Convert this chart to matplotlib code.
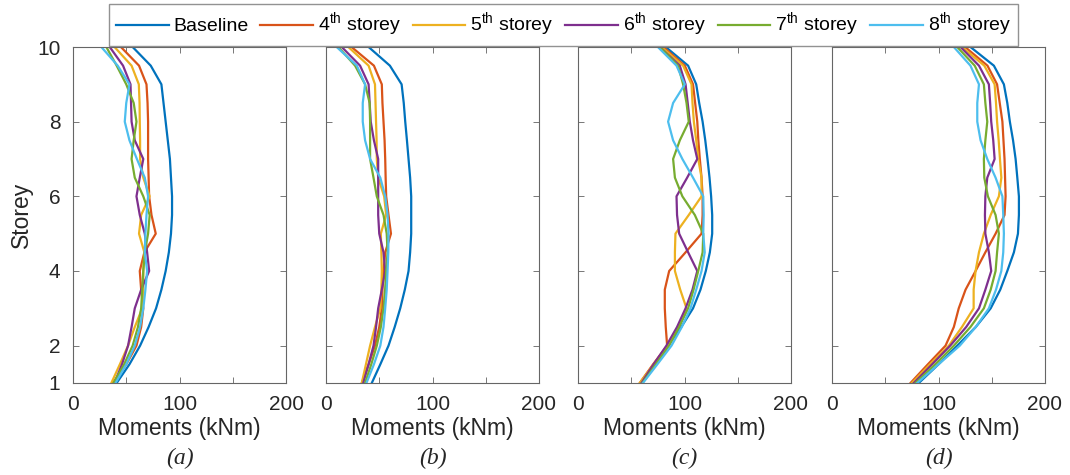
import matplotlib
matplotlib.use("Agg")
import matplotlib.pyplot as plt
import numpy as np

plt.rcParams['font.family'] = ['Liberation Sans', 'DejaVu Sans']
plt.rcParams['mathtext.fontset'] = 'custom'
plt.rcParams['mathtext.rm'] = 'Liberation Sans'

storeys = [1, 1.5, 2, 2.5, 3, 3.5, 4, 4.5, 5, 5.5, 6, 6.5, 7, 7.5, 8, 8.5, 9, 9.5, 10]

series_names = ['Baseline', r'4$^{\mathrm{th}}$ storey', r'5$^{\mathrm{th}}$ storey',
                r'6$^{\mathrm{th}}$ storey', r'7$^{\mathrm{th}}$ storey', r'8$^{\mathrm{th}}$ storey']
colors = ['#0072BD', '#D95319', '#EDB120', '#7E2F8E', '#77AC30', '#4DBEEE']
panel_tags = ['(a)', '(b)', '(c)', '(d)']

# moments (kNm) per storey, rows: baseline, 4th..8th storey
moments_a = [
    [41, 53, 63, 71, 78, 83, 87, 90, 92, 93, 93, 92, 91, 89, 87, 85, 83, 73, 56],
    [37.6, 50, 59.6, 64, 66, 64, 62.7, 67, 77.7, 73.7, 71.5, 71, 70.5, 70.5, 70.5, 70, 69, 62, 45],
    [36, 44, 51.7, 58, 65, 66, 66, 67, 62, 64, 72, 66, 63, 63, 62.7, 62.5, 61.8, 55, 39],
    [39, 46, 51.7, 55, 58, 64, 71.5, 69.6, 67.4, 62.7, 59.6, 62.7, 66, 58, 55, 54.5, 54, 47, 34.5],
    [38, 48, 56, 61, 64, 65, 66, 67.4, 70.5, 72, 66, 58, 55, 57, 59.6, 57, 50, 41, 31.3],
    [40, 50, 58, 63, 66, 68, 69.6, 67.4, 68, 69, 70.5, 67.4, 60, 53, 48.6, 50, 53, 42, 26.6],
]
moments_b = [
    [43, 51, 58.7, 64.5, 69.7, 74, 77.5, 79, 80, 80, 80, 79, 77.5, 76, 74.4, 73, 71, 60, 40],
    [33.6, 40, 46, 50, 52.4, 53, 54, 55.6, 61, 58.7, 56.5, 56, 55.6, 55, 54, 53, 52.4, 45, 24],
    [33.6, 37.5, 41.4, 46, 51, 52, 52.4, 52, 51.5, 56.5, 54.6, 49, 47.7, 47.5, 47, 46.5, 46, 40, 21],
    [35, 40, 44.6, 47, 49, 52.4, 55.6, 54, 50, 49, 49, 49, 49, 45, 42, 41, 40, 32, 14.8],
    [36.7, 42.5, 47.7, 51.5, 54, 55.5, 56.5, 57.8, 57, 54, 47.7, 44.6, 41.4, 41.4, 41.4, 41, 36.7, 27.3, 11.6],
    [38, 45, 51, 54, 55.6, 57, 57.8, 58.5, 58.7, 57.8, 55.6, 51, 41.4, 36.7, 34.5, 34.5, 36.7, 29, 10],
]
moments_c = [
    [59.6, 72, 84.6, 97, 108, 115, 120, 123.8, 126, 126, 125, 123.5, 121.6, 119.5, 117, 113.8, 111, 103.4, 82.4],
    [58, 70.5, 83.7, 82.4, 81.5, 81.5, 85.6, 101, 116, 117, 117, 116, 114.4, 113, 112, 110, 108, 100.3, 80],
    [58, 71, 84.6, 94, 101.9, 96, 91, 91, 91.5, 104, 116, 116, 112.9, 111, 108.8, 107.5, 106.6, 98.7, 78.4],
    [59.6, 71, 83, 93, 101, 107.5, 112, 103.4, 95, 93, 92.5, 102.5, 112, 108, 105, 103, 101, 95.6, 76.8],
    [60.5, 73, 85.6, 95, 103.4, 108.5, 112.9, 117, 117.6, 109.7, 98, 91, 89.3, 95.6, 104, 101.9, 98.7, 94, 76.8],
    [61, 74.5, 87.8, 97.5, 105.6, 111, 116, 119, 117.6, 118, 117.6, 108, 98, 89.3, 84.6, 89.3, 100.3, 92.5, 75],
]
moments_d = [
    [81.5, 100, 117.6, 135, 149, 158, 164.6, 170.8, 174.6, 175.5, 175.5, 174, 172.4, 170, 167, 164.6, 161.4, 152, 130],
    [73.7, 90, 106.6, 114.4, 119, 125.4, 134.8, 144, 153.6, 162, 163, 162.5, 162, 161, 160, 157.5, 155, 146, 125],
    [75, 92, 109.7, 122, 133, 133, 134.8, 138, 142.6, 149, 156.7, 159, 157.7, 156.5, 155, 154, 152.7, 143, 122],
    [76.8, 94, 111, 126, 138, 144, 149.5, 147.3, 144, 143.6, 144, 145.8, 152.7, 151.4, 149.5, 148.5, 147.3, 138, 120.7],
    [78.4, 97, 114.4, 130, 142.6, 149, 153.6, 155, 156.7, 153.6, 146.4, 143, 142.6, 144, 145.8, 144, 142.6, 134, 117.6],
    [80, 100, 120, 135, 147.3, 154, 159, 160.8, 161.4, 160.8, 160, 153.6, 145.8, 139.5, 136.4, 136.4, 138, 130, 114.4],
]
all_panels = [moments_a, moments_b, moments_c, moments_d]

fig = plt.figure(figsize=(10.7, 4.75), dpi=100)
lefts = [73, 326, 578, 832]
W, H = 1070, 475
ax_w, ax_top, ax_bot = 213, 47, 383

handles = []
for k, data in enumerate(all_panels):
    ax = fig.add_axes([lefts[k] / W, 1 - ax_bot / H, ax_w / W, (ax_bot - ax_top) / H])
    for j, vals in enumerate(data):
        ln, = ax.plot(vals, storeys, color=colors[j], lw=1.6, label=series_names[j])
        if k == 0:
            handles.append(ln)
    ax.set_xlim(0, 200)
    ax.set_ylim(1, 10)
    ax.set_xticks([0, 50, 100, 150, 200])
    ax.set_xticklabels(['0', '', '100', '', '200'])
    ax.set_yticks([1, 2, 4, 6, 8, 10])
    if k == 0:
        ax.set_yticklabels(['1', '2', '4', '6', '8', '10'])
        ax.set_ylabel('Storey', fontsize=16.5, labelpad=3, color='#262626')
    else:
        ax.set_yticklabels([])
    ax.tick_params(direction='in', length=4, width=0.7, top=True, right=True,
                   labelsize=15, pad=9, colors='#777777', labelcolor='#262626')
    for sp in ax.spines.values():
        sp.set_color('#666666')
        sp.set_linewidth(0.8)
    ax.set_xlabel('Moments (kNm)', fontsize=16.5, labelpad=2, color='#262626')
    # sub-figure tag under each panel
    ax.text(0.5, -0.192, panel_tags[k], transform=ax.transAxes, ha='center', va='top',
            fontsize=17, family='Liberation Serif', style='italic', color='#262626')

leg = fig.legend(handles=handles, loc='center', bbox_to_anchor=(563.5 / W, 1 - 25 / H),
                 ncol=6, fontsize=14, frameon=True, fancybox=False, handlelength=2.7,
                 handletextpad=0.25, columnspacing=0.6, borderpad=0.35)
leg.get_frame().set_edgecolor('#777777')
leg.get_frame().set_linewidth(1.0)

fig.savefig('out.png', dpi=100)
